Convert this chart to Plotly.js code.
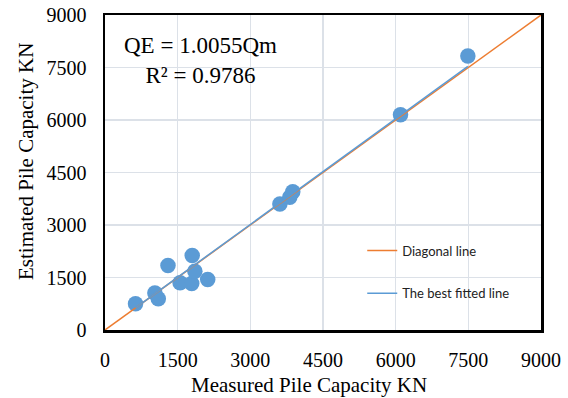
<!DOCTYPE html>
<html>
<head>
<meta charset="utf-8">
<script src="https://cdn.plot.ly/plotly-3.0.1.min.js"></script>
<style>html,body{margin:0;padding:0;background:#fff;}#chart{width:568px;height:398px;}</style>
</head>
<body>
<div id="chart"></div>
<script>
// Measured vs estimated pile capacity (KN)
const measured  = [630, 1030, 1100, 1300, 1550, 1790, 1800, 1855, 2120, 3610, 3814, 3876, 6100, 7490];
const estimated = [750, 1060, 890, 1840, 1350, 1330, 2130, 1680, 1440, 3600, 3794, 3951, 6150, 7830];
const diagonal = [0, 9000];
const slope = 1.0055;
const r2 = 0.9786;
const tickVals = [0, 1500, 3000, 4500, 6000, 7500, 9000];
const legendNames = ["Diagonal line", "The best fitted line"];

const xMin = Math.min(...measured), xMax = Math.max(...measured);
const fitX = [xMin, xMax];
const fitY = fitX.map(v => slope * v);

const traces = [
  {x: measured, y: estimated, type: 'scatter', mode: 'markers', showlegend: false,
   marker: {size: 15.5, color: '#5B9BD5', line: {width: 0}}},
  {x: diagonal, y: diagonal, type: 'scatter', mode: 'lines', name: legendNames[0], legendgroup: 'a',
   line: {color: '#ED7D31', width: 1.5}},
  {x: fitX, y: fitY, type: 'scatter', mode: 'lines', name: legendNames[1], legendgroup: 'b',
   line: {color: '#5B9BD5', width: 1.5}}
];

const serif = 'Liberation Serif, Times New Roman, serif';
const axisCommon = {
  range: [0, 9000], tickvals: tickVals, ticktext: tickVals.map(String),
  showgrid: true, gridcolor: '#DCE1E8', gridwidth: 1.5, zeroline: false,
  showline: true, linecolor: '#000', linewidth: 2.5, mirror: true,
  ticks: '', tickfont: {family: serif, size: 20, color: '#000'}, fixedrange: true
};

const layout = {
  width: 568, height: 398,
  margin: {l: 105, r: 27, t: 15, b: 68},
  paper_bgcolor: '#fff', plot_bgcolor: '#fff',
  xaxis: Object.assign({}, axisCommon, {ticklabelstandoff: 10}),
  yaxis: Object.assign({}, axisCommon, {ticklabelstandoff: 12}),
  showlegend: true,
  legend: {x: 0.59, y: 0.30, xanchor: 'left', yanchor: 'top', bgcolor: 'rgba(0,0,0,0)',
    borderwidth: 0, itemwidth: 30, tracegroupgap: 23,
    font: {family: 'Lato, Open Sans, sans-serif', size: 13, color: '#222'}},
  shapes: [
    {type: 'rect', xref: 'paper', yref: 'paper', x0: (365-105)/436, x1: (511-105)/436,
     y0: (330-318)/315, y1: (330-232)/315, fillcolor: '#fff', line: {width: 0}, layer: 'between'}
  ],
  annotations: [
    {xref: 'paper', yref: 'paper', x: (200-105)/436, y: (330-60)/315, xanchor: 'center', yanchor: 'middle',
     showarrow: false, align: 'center',
     text: 'QE = ' + slope + 'Qm<br>R² = ' + r2, font: {family: serif, size: 23, color: '#000'}},
    {xref: 'paper', yref: 'paper', x: (309-105)/436, y: (330-385)/315, xanchor: 'center', yanchor: 'middle',
     showarrow: false, text: 'Measured Pile Capacity KN', font: {family: serif, size: 21, color: '#000'}},
    {xref: 'paper', yref: 'paper', x: (26-105)/436, y: (330-162)/315, xanchor: 'center', yanchor: 'middle',
     showarrow: false, textangle: -90, text: 'Estimated Pile Capacity KN', font: {family: serif, size: 21, color: '#000'}}
  ]
};

Plotly.newPlot('chart', traces, layout, {staticPlot: true, displayModeBar: false});
</script>
</body>
</html>
